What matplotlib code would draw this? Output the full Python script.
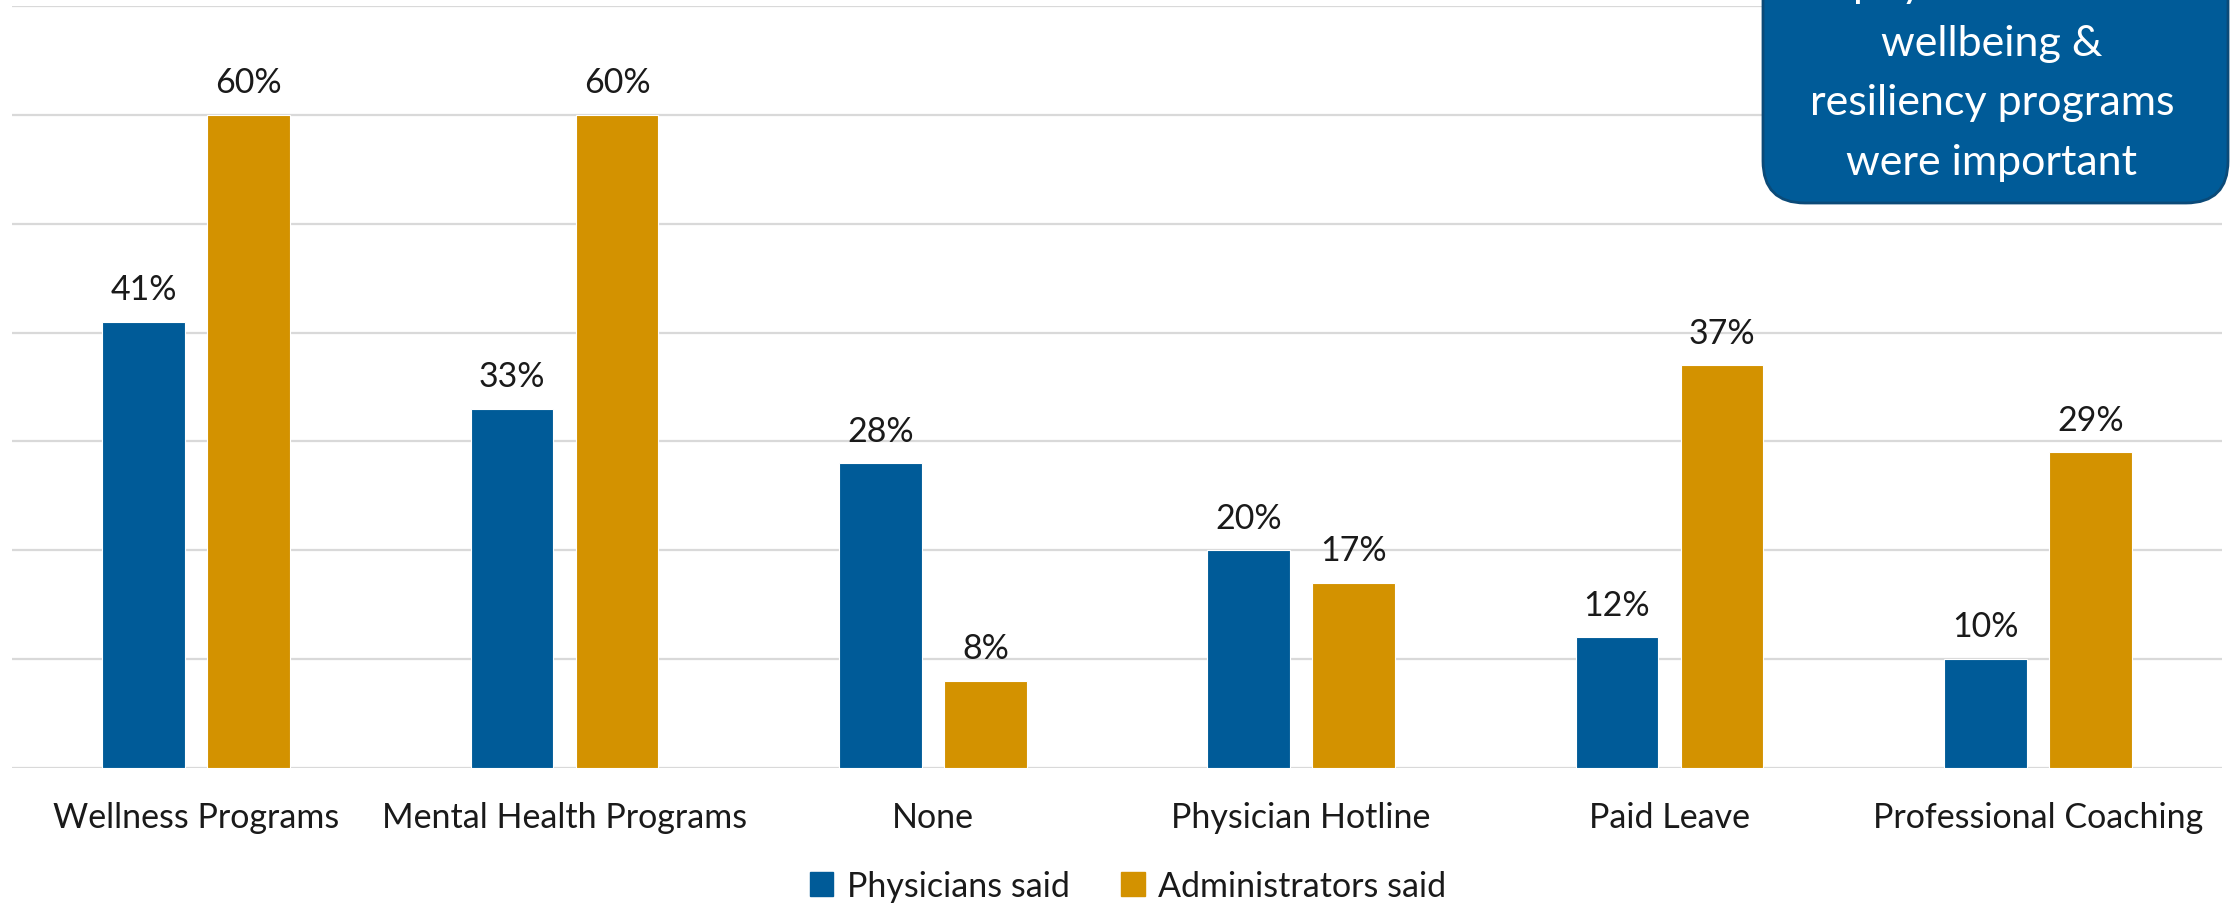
import matplotlib
matplotlib.use("Agg")
import matplotlib.pyplot as plt
from matplotlib.patches import FancyBboxPatch, Patch
from matplotlib.transforms import IdentityTransform
import numpy as np

categories = ["Wellness Programs", "Mental Health Programs", "None",
              "Physician Hotline", "Paid Leave", "Professional Coaching"]
physicians = [41, 33, 28, 20, 12, 10]
administrators = [60, 60, 8, 17, 37, 29]
series_names = ["Physicians said", "Administrators said"]
callout_lines = ["physicians said", "wellbeing &", "resiliency programs", "were important"]

BLUE = "#005b98"
GOLD = "#d39200"
GRID = "#d9d9d9"

plt.rcParams["font.family"] = ["Lato", "DejaVu Sans"]

W, H = 2232, 904
fig = plt.figure(figsize=(W / 100, H / 100), dpi=100)
ax = fig.add_axes([12 / W, (H - 769) / H, 2210 / W, 762 / H])

x = np.arange(len(categories))
bw = 0.225
off = 0.1425
b1 = ax.bar(x - off, physicians, bw, color=BLUE, edgecolor="white", linewidth=0.8,
            label=series_names[0], zorder=3)
b2 = ax.bar(x + off, administrators, bw, color=GOLD, edgecolor="white", linewidth=0.8,
            label=series_names[1], zorder=3)

for bars in (b1, b2):
    ax.bar_label(bars, fmt="%.0f%%", padding=12, fontsize=24.5, color="#1a1a1a")

ax.set_xlim(-0.5, len(categories) - 0.5)
ax.set_ylim(0, 70)
ax.set_yticks(np.arange(0, 71, 10))
ax.yaxis.grid(True, color=GRID, linewidth=1.6, zorder=0)
ax.tick_params(axis="y", left=False, labelleft=False)
ax.set_xticks(x)
ax.set_xticklabels(categories, fontsize=24.5, color="#1a1a1a")
ax.tick_params(axis="x", length=0, pad=24)
for s in ax.spines.values():
    s.set_visible(False)

handles = [Patch(color=BLUE), Patch(color=GOLD)]
fig.legend(handles, series_names, loc="center", bbox_to_anchor=(1128 / W, 1 - 887 / H),
           ncol=2, frameon=False, fontsize=24.5, handlelength=0.7, handleheight=0.7,
           handletextpad=0.4, columnspacing=1.5, labelcolor="#1a1a1a")

# callout box, top edge runs off the figure
box = FancyBboxPatch((1763, H - 204), 465, 330, boxstyle="round,pad=0,rounding_size=42",
                     transform=IdentityTransform(), facecolor="#005b98",
                     edgecolor="#0b4a78", linewidth=2, zorder=5)
fig.patches.append(box)
baselines = [H + 3, H - 56, H - 115, H - 175]
for line, yb in zip(callout_lines, baselines):
    fig.text(1992 / W, yb / H, line, ha="center", va="baseline", color="white",
             fontsize=31, zorder=6)

fig.savefig("out.png", dpi=100)
